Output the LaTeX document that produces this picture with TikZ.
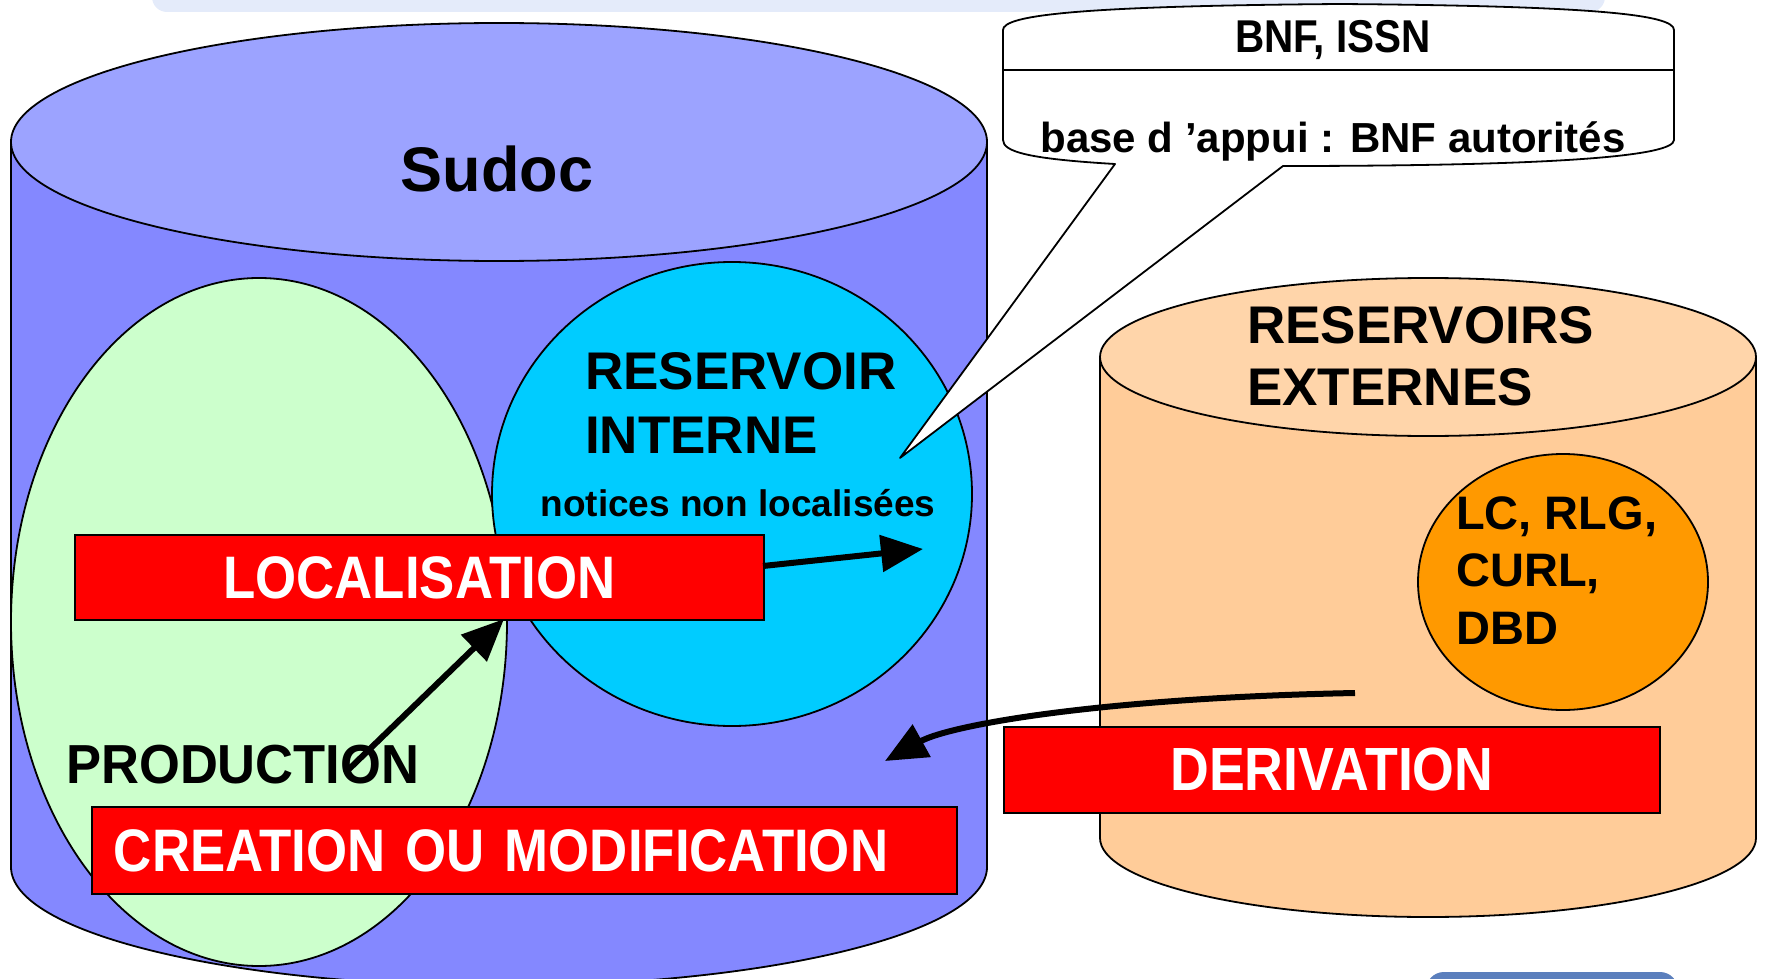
\documentclass[tikz,border=0pt]{standalone}
\usepackage{fontspec}
\setmainfont{Liberation Sans}
\newfontfamily\condfont[FakeStretch=0.88]{Liberation Sans}
\newfontfamily\semicondfont[FakeStretch=0.955]{Liberation Sans}
\usetikzlibrary{arrows.meta}
\definecolor{sudside}{HTML}{8488FF}
\definecolor{sudtop}{HTML}{9CA3FF}
\definecolor{prodgreen}{HTML}{CCFFCC}
\definecolor{rescyan}{HTML}{00CCFF}
\definecolor{extside}{HTML}{FFCC99}
\definecolor{exttop}{HTML}{FFD5AA}
\definecolor{extorange}{HTML}{FF9900}
\definecolor{bandcol}{HTML}{E4EBFA}
\definecolor{btncol}{HTML}{5B7FBD}
\begin{document}
\begin{tikzpicture}[x=1pt,y=-1pt,
  shape line/.style={draw=black, line width=1.8pt},
  txt/.style={inner sep=0pt, text=black},
  redbox/.style={draw=black, line width=1.8pt, fill=red, text=white, inner sep=0pt},
  bigarrow/.style={line width=6pt, -{Triangle[length=42pt,width=36pt]}},
  callout/.style={draw=black, line width=1.8pt, fill=white, line join=round}]
\useasboundingbox (0,0) rectangle (1765,979);
\clip (0,0) rectangle (1765,979);
% background decorations
\fill[bandcol, rounded corners=15pt] (152,-40) rectangle (1605,12);
\fill[btncol, rounded corners=18pt] (1426,972) rectangle (1678,1010);
% Sudoc cylinder
\path[shape line, fill=sudside] (11,142) -- (11,867) arc[start angle=180, end angle=0, x radius=488, y radius=119] -- (987,142) -- cycle;
\path[shape line, fill=sudtop] (499,142) ellipse [x radius=488, y radius=119];
\node[txt, anchor=base, font=\bfseries\fontsize{63}{70}\selectfont] (sudoc) at (497,191) {Sudoc};
% production ellipse
\path[shape line, fill=prodgreen] (259,622) ellipse [x radius=248, y radius=344];
% reservoir interne
\path[shape line, fill=rescyan] (732,494) ellipse [x radius=240, y radius=232];
\node[txt, anchor=base west, font=\bfseries\fontsize{53}{60}\selectfont] (ri1) at (585,389) {RESERVOIR};
\node[txt, anchor=base west, font=\bfseries\fontsize{53}{60}\selectfont] (ri2) at (585,453) {INTERNE};
\node[txt, anchor=base, font=\bfseries\fontsize{37}{42}\selectfont] (notices) at (738,516) {notices non localisées};
\node[txt, anchor=base west, font=\semicondfont\bfseries\fontsize{55}{60}\selectfont] (prod) at (66,783) {PRODUCTION};
% red boxes
\node[redbox, anchor=north west, minimum width=689pt, minimum height=85pt, font=\condfont\bfseries\fontsize{60}{66}\selectfont] (loc) at (74,534) {LOCALISATION};
\node[redbox, anchor=north west, text width=821pt, inner xsep=22pt, minimum height=87pt, align=left, font=\condfont\bfseries\fontsize{60}{66}\selectfont] (cre) at (91,806) {CREATION OU MODIFICATION};
% external reservoirs
\path[shape line, fill=extside] (1100,357) -- (1100,838) arc[start angle=180, end angle=0, x radius=328, y radius=79] -- (1756,357) -- cycle;
\path[shape line, fill=exttop] (1428,357) ellipse [x radius=328, y radius=79];
\node[txt, anchor=base west, font=\bfseries\fontsize{53}{60}\selectfont] (re1) at (1247,343) {RESERVOIRS};
\node[txt, anchor=base west, font=\bfseries\fontsize{53}{60}\selectfont] (re2) at (1247,405) {EXTERNES};
\path[shape line, fill=extorange] (1563,582) ellipse [x radius=145, y radius=128];
\node[txt, anchor=base west, font=\bfseries\fontsize{47}{52}\selectfont] (lc1) at (1456,529) {LC, RLG,};
\node[txt, anchor=base west, font=\bfseries\fontsize{47}{52}\selectfont] (lc2) at (1456,586) {CURL,};
\node[txt, anchor=base west, font=\bfseries\fontsize{47}{52}\selectfont] (lc3) at (1456,644) {DBD};
\node[redbox, anchor=north west, minimum width=656pt, minimum height=86pt, font=\condfont\bfseries\fontsize{61}{66}\selectfont] (der) at (1003,726) {DERIVATION};
% arrows
\coordinate (a1s) at (345,773);
\coordinate (a1e) at (504,619);
\coordinate (a2s) at (763,566);
\coordinate (a2e) at (923,549);
\coordinate (a3s) at (1355,693);
\coordinate (a3e) at (885,761);
\draw[bigarrow] (a1s) -- (a1e);
\draw[bigarrow] (a2s) -- (a2e);
\draw[bigarrow] (a3s) .. controls (1100,698) and (950,725) .. (a3e);
% callout
\coordinate (tip) at (900,458);
\path[callout] (1003,30) -- (1003,140) .. controls (1003,152) and (1030,159) .. (1115,164) -- (tip) -- (1283,166) .. controls (1560,166) and (1674,156) .. (1674,140) -- (1674,30) .. controls (1674,15) and (1600,6) .. (1340,4) .. controls (1080,6) and (1003,15) .. cycle;
\draw[line width=1.8pt] (1003,70) -- (1674,70);
\node[txt, anchor=base, font=\condfont\bfseries\fontsize{46}{50}\selectfont] (bnf) at (1333,53) {BNF, ISSN};
\node[txt, anchor=base, font=\bfseries\fontsize{42}{46}\selectfont] (appui) at (1333,153) {base d ’appui : BNF autorités};
\end{tikzpicture}
\end{document}
